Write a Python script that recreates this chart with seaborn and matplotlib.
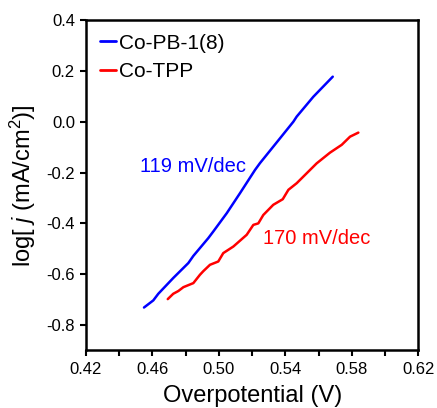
import numpy as np
import pandas as pd
import matplotlib
matplotlib.use("Agg")
import matplotlib.pyplot as plt
import seaborn as sns

# ---- data ----
pb_x = [0.4549, 0.4605, 0.4635, 0.4725, 0.4816, 0.4846, 0.4936, 0.4966,
        0.5047, 0.5127, 0.5217, 0.5247, 0.5368, 0.5448, 0.5468, 0.5568, 0.5685]
pb_y = [-0.731, -0.703, -0.677, -0.615, -0.556, -0.528, -0.458, -0.432,
        -0.360, -0.281, -0.190, -0.163, -0.065, 0.000, 0.020, 0.098, 0.177]

tpp_x = [0.4692, 0.4725, 0.4756, 0.4786, 0.4846, 0.4886, 0.4906, 0.4946,
         0.4996, 0.5026, 0.5087, 0.5167, 0.5207, 0.5237, 0.5267, 0.5327,
         0.5384, 0.5418, 0.5468, 0.5528, 0.5588, 0.5668, 0.5739, 0.5789, 0.5839]
tpp_y = [-0.698, -0.677, -0.666, -0.651, -0.635, -0.602, -0.588, -0.563,
         -0.550, -0.517, -0.491, -0.445, -0.406, -0.400, -0.367, -0.327,
         -0.305, -0.268, -0.242, -0.203, -0.164, -0.122, -0.091, -0.059, -0.043]

series_names = ["Co-PB-1(8)", "Co-TPP"]
slope_labels = ["119 mV/dec", "170 mV/dec"]
slope_pos = [(0.4845, -0.177), (0.5588, -0.460)]
x_ticks = [0.42, 0.44, 0.46, 0.48, 0.50, 0.52, 0.54, 0.56, 0.58, 0.60, 0.62]
x_labels = ["0.42", "", "0.46", "", "0.50", "", "0.54", "", "0.58", "", "0.62"]
y_ticks = [-0.8, -0.6, -0.4, -0.2, 0.0, 0.2, 0.4]
y_labels = ["-0.8", "-0.6", "-0.4", "-0.2", "0.0", "0.2", "0.4"]

df = pd.concat([
    pd.DataFrame({"x": pb_x, "y": pb_y, "s": series_names[0]}),
    pd.DataFrame({"x": tpp_x, "y": tpp_y, "s": series_names[1]}),
], ignore_index=True)

sns.set_theme(style="ticks")
plt.rcParams["font.family"] = ["Liberation Sans", "DejaVu Sans"]
plt.rcParams["mathtext.fontset"] = "custom"
plt.rcParams["mathtext.rm"] = "Liberation Sans"
plt.rcParams["mathtext.it"] = "Liberation Sans:italic"
for k in ["text.color", "axes.labelcolor", "xtick.color", "ytick.color",
          "axes.edgecolor", "xtick.labelcolor", "ytick.labelcolor"]:
    plt.rcParams[k] = "black"

colors = {"Co-PB-1(8)": "#0000ff", "Co-TPP": "#ff0000"}

fig = plt.figure(figsize=(4.37, 4.08), dpi=100)
ax = fig.add_axes([0.1968, 0.1410, 0.7605, 0.8100])

sns.lineplot(data=df, x="x", y="y", hue="s", palette=colors, sort=False,
             linewidth=1.8, ax=ax, estimator=None)

ax.set_xlim(0.42, 0.62)
ax.set_ylim(-0.9, 0.4)
ax.set_xticks(x_ticks)
ax.set_xticklabels(x_labels)
ax.set_yticks(y_ticks)
ax.set_yticklabels(y_labels)
ax.tick_params(direction="out", length=4, width=1.5, labelsize=12,
               colors="black", pad=4)

for sp in ax.spines.values():
    sp.set_visible(True)
    sp.set_linewidth(1.8)
    sp.set_color("black")

ax.set_xlabel("Overpotential (V)", fontsize=17, labelpad=6, color="black")
ax.set_ylabel("log[ $j$ (mA/cm$^{2}$)]", fontsize=17, labelpad=6, color="black")

for lab, (tx, ty), s in zip(slope_labels, slope_pos, series_names):
    ax.text(tx, ty, lab, color=colors[s], fontsize=14.5, ha="center", va="center")

leg = ax.legend(loc="upper left", frameon=False, fontsize=15,
                handlelength=0.8, handletextpad=0.15, labelspacing=0.45,
                borderaxespad=0.35, borderpad=0.3)
for t in leg.get_texts():
    t.set_color("black")
for h in leg.get_lines():
    h.set_linewidth(2.0)

fig.savefig("out.png", dpi=100)
